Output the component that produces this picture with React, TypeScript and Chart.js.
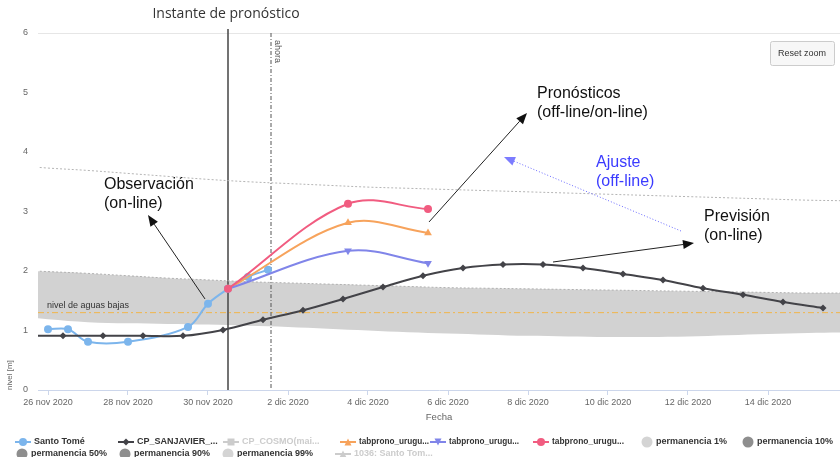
import React, { useEffect, useRef } from 'react';
import { Chart, registerables } from 'chart.js';

Chart.register(...registerables);

const FONT = '"Liberation Sans", Arial, Helvetica, sans-serif';

// x values are days since 26 nov 2020 00:00
const xTickDays = [0, 2, 4, 6, 8, 10, 12, 14, 16, 18];
const xTickLabels = ['26 nov 2020', '28 nov 2020', '30 nov 2020', '2 dic 2020', '4 dic 2020', '6 dic 2020', '8 dic 2020', '10 dic 2020', '12 dic 2020', '14 dic 2020'];
const yTickValues = [0, 1, 2, 3, 4, 5, 6];

const santoTomeDays = [0, 0.5, 1, 2, 3.5, 4, 4.5, 5, 5.5];
const santoTomeValues = [1.02, 1.02, 0.81, 0.81, 1.06, 1.45, 1.7, 1.9, 2.02];

const sanJavierDays = [-0.625, 0.375, 1.375, 2.375, 3.375, 4.375, 5.375, 6.375, 7.375, 8.375, 9.375, 10.375, 11.375, 12.375, 13.375, 14.375, 15.375, 16.375, 17.375, 18.375, 19.375];
const sanJavierValues = [0.91, 0.91, 0.91, 0.91, 0.91, 1.01, 1.18, 1.34, 1.53, 1.73, 1.92, 2.05, 2.11, 2.11, 2.05, 1.95, 1.85, 1.71, 1.6, 1.48, 1.38];

const pronoDays = [4.5, 7.5, 9.5];
const prono1Values = [1.7, 2.81, 2.64];
const prono2Values = [1.7, 2.34, 2.13];
const prono3Values = [1.7, 3.13, 3.04];

const permDays = [-1, 0, 1, 2, 3, 4, 5, 6, 7, 8, 9, 10, 11, 12, 13, 14, 15, 16, 17, 18, 19, 20];
const perm1Values = [3.78, 3.73, 3.69, 3.64, 3.59, 3.54, 3.5, 3.47, 3.44, 3.41, 3.39, 3.37, 3.35, 3.33, 3.31, 3.29, 3.27, 3.25, 3.23, 3.21, 3.19, 3.18];
const perm10Values = [2.02, 1.99, 1.96, 1.92, 1.88, 1.85, 1.82, 1.8, 1.78, 1.76, 1.74, 1.72, 1.71, 1.7, 1.69, 1.68, 1.67, 1.66, 1.65, 1.64, 1.63, 1.63];
const perm90Values = [1.25, 1.19, 1.14, 1.12, 1.11, 1.1, 1.08, 1.06, 1.03, 1.0, 0.97, 0.95, 0.93, 0.91, 0.9, 0.89, 0.89, 0.9, 0.92, 0.94, 0.96, 0.97];

const aguasBajasLevel = 1.3;
const instanteDay = 4.5;
const ahoraDay = 5.575;

// annotation texts (anchor in data units: day, level)
const noteTexts = [
  { lines: ['Instante de pronóstico'], day: 4.45, level: 6.32, color: '#333333', font: '14px "Open Sans", "Noto Sans", sans-serif', align: 'center' },
  { lines: ['Observación', '(on-line)'], day: 1.4, level: 3.445, color: '#111111', font: '16px ' + FONT, align: 'left' },
  { lines: ['Pronósticos', '(off-line/on-line)'], day: 12.225, level: 4.975, color: '#111111', font: '16px ' + FONT, align: 'left' },
  { lines: ['Ajuste', '(off-line)'], day: 13.7, level: 3.815, color: '#3b3bff', font: '16px ' + FONT, align: 'left' },
  { lines: ['Previsión', '(on-line)'], day: 16.4, level: 2.908, color: '#111111', font: '16px ' + FONT, align: 'left' },
];
const noteArrows = [
  { from: [3.925, 1.53], to: [2.5, 2.94], color: '#222222', head: '#111111', dash: [] as number[] },
  { from: [9.525, 2.824], to: [11.975, 4.655], color: '#222222', head: '#111111', dash: [] as number[] },
  { from: [15.825, 2.672], to: [11.4, 3.916], color: '#6a6aff', head: '#7c7cff', dash: [1, 2] },
  { from: [12.625, 2.151], to: [16.15, 2.47], color: '#222222', head: '#111111', dash: [] as number[] },
];

// legend
const legendItems = [
  { label: 'Santo Tomé', color: '#7cb5ec', kind: 'line', marker: 'circle', hidden: false, row: 0, left: 15, maxW: 0 },
  { label: 'CP_SANJAVIER_...', color: '#434348', kind: 'line', marker: 'diamond', hidden: false, row: 0, left: 118, maxW: 0 },
  { label: 'CP_COSMO(mai...', color: '#cccccc', kind: 'line', marker: 'square', hidden: true, row: 0, left: 223, maxW: 0 },
  { label: 'tabprono_urugu...', color: '#f7a35c', kind: 'line', marker: 'triangle', hidden: false, row: 0, left: 340, maxW: 70 },
  { label: 'tabprono_urugu...', color: '#8085e9', kind: 'line', marker: 'triangle-down', hidden: false, row: 0, left: 430, maxW: 70 },
  { label: 'tabprono_urugu...', color: '#f15c80', kind: 'line', marker: 'circle', hidden: false, row: 0, left: 533, maxW: 72 },
  { label: 'permanencia 1%', color: '#d4d4d4', kind: 'dot', marker: 'circle', hidden: false, row: 0, left: 641, maxW: 0 },
  { label: 'permanencia 10%', color: '#8e8e8e', kind: 'dot', marker: 'circle', hidden: false, row: 0, left: 742, maxW: 0 },
  { label: 'permanencia 50%', color: '#8e8e8e', kind: 'dot', marker: 'circle', hidden: false, row: 1, left: 16, maxW: 0 },
  { label: 'permanencia 90%', color: '#8e8e8e', kind: 'dot', marker: 'circle', hidden: false, row: 1, left: 119, maxW: 0 },
  { label: 'permanencia 99%', color: '#d4d4d4', kind: 'dot', marker: 'circle', hidden: false, row: 1, left: 222, maxW: 0 },
  { label: '1036: Santo Tom...', color: '#cccccc', kind: 'line', marker: 'triangle', hidden: true, row: 1, left: 335, maxW: 0 },
];

const pts = (days: number[], vals: number[]) => days.map((d, i) => ({ x: d, y: vals[i] }));

function drawMarker(ctx: CanvasRenderingContext2D, kind: string, x: number, y: number, r: number, color: string) {
  ctx.fillStyle = color;
  ctx.beginPath();
  if (kind === 'circle') {
    ctx.arc(x, y, r, 0, Math.PI * 2);
  } else if (kind === 'diamond') {
    ctx.moveTo(x, y - r); ctx.lineTo(x + r, y); ctx.lineTo(x, y + r); ctx.lineTo(x - r, y);
  } else if (kind === 'square') {
    ctx.rect(x - r, y - r, 2 * r, 2 * r);
  } else if (kind === 'triangle') {
    ctx.moveTo(x, y - r); ctx.lineTo(x + r, y + r); ctx.lineTo(x - r, y + r);
  } else if (kind === 'triangle-down') {
    ctx.moveTo(x - r, y - r); ctx.lineTo(x + r, y - r); ctx.lineTo(x, y + r);
  }
  ctx.closePath();
  ctx.fill();
}

function drawArrow(ctx: CanvasRenderingContext2D, x1: number, y1: number, x2: number, y2: number, color: string, head: string, dash: number[]) {
  const ang = Math.atan2(y2 - y1, x2 - x1);
  const hl = 11, hw = 4.5;
  const bx = x2 - hl * Math.cos(ang), by = y2 - hl * Math.sin(ang);
  ctx.strokeStyle = color;
  ctx.lineWidth = 1;
  ctx.setLineDash(dash);
  ctx.beginPath(); ctx.moveTo(x1, y1); ctx.lineTo(bx, by); ctx.stroke();
  ctx.setLineDash([]);
  ctx.fillStyle = head;
  ctx.beginPath();
  ctx.moveTo(x2, y2);
  ctx.lineTo(bx + hw * Math.sin(ang), by - hw * Math.cos(ang));
  ctx.lineTo(bx - hw * Math.sin(ang), by + hw * Math.cos(ang));
  ctx.closePath();
  ctx.fill();
}

const overlayPlugin = {
  id: 'overlay',
  beforeDatasetsDraw(chart: any) {
    const { ctx, chartArea: ca, scales } = chart;
    const x = scales.x, y = scales.y;
    ctx.save();
    // nivel de aguas bajas
    const yb = y.getPixelForValue(aguasBajasLevel);
    ctx.strokeStyle = '#f2b54a';
    ctx.lineWidth = 1;
    ctx.setLineDash([6, 3, 2, 3]);
    ctx.beginPath(); ctx.moveTo(ca.left, yb); ctx.lineTo(ca.right, yb); ctx.stroke();
    ctx.setLineDash([]);
    ctx.fillStyle = '#333333';
    ctx.font = '9px ' + FONT;
    ctx.textAlign = 'left';
    ctx.textBaseline = 'middle';
    ctx.fillText('nivel de aguas bajas', ca.left + 9, yb - 7);
    // ahora line
    const xa = x.getPixelForValue(ahoraDay);
    ctx.strokeStyle = '#555555';
    ctx.setLineDash([4, 2, 1, 2]);
    ctx.beginPath(); ctx.moveTo(xa, ca.top); ctx.lineTo(xa, ca.bottom); ctx.stroke();
    ctx.setLineDash([]);
    ctx.save();
    ctx.translate(xa + 2, ca.top + 7);
    ctx.rotate(Math.PI / 2);
    ctx.fillStyle = '#555555';
    ctx.font = '9px ' + FONT;
    ctx.textAlign = 'left';
    ctx.textBaseline = 'bottom';
    ctx.fillText('ahora', 0, 0);
    ctx.restore();
    // instante de pronostico line
    const xi = x.getPixelForValue(instanteDay);
    ctx.strokeStyle = '#444444';
    ctx.lineWidth = 1.5;
    ctx.beginPath(); ctx.moveTo(xi, ca.top - 4); ctx.lineTo(xi, ca.bottom); ctx.stroke();
    ctx.restore();
  },
  afterDraw(chart: any) {
    const { ctx, chartArea: ca, scales } = chart;
    const x = scales.x, y = scales.y;
    ctx.save();
    // reset zoom button
    const bw = 64, bh = 24;
    const bx = ca.right - bw - 6, by = ca.top + 8;
    ctx.fillStyle = '#f7f7f7';
    ctx.strokeStyle = '#cccccc';
    ctx.lineWidth = 1;
    ctx.beginPath();
    (ctx as any).roundRect(bx + 0.5, by + 0.5, bw, bh, 2);
    ctx.fill(); ctx.stroke();
    ctx.fillStyle = '#333333';
    ctx.font = '9px ' + FONT;
    ctx.textAlign = 'center';
    ctx.textBaseline = 'middle';
    ctx.fillText('Reset zoom', bx + bw / 2, by + bh / 2 + 1);

    // annotation arrows
    noteArrows.forEach((a) => {
      drawArrow(ctx, x.getPixelForValue(a.from[0]), y.getPixelForValue(a.from[1]), x.getPixelForValue(a.to[0]), y.getPixelForValue(a.to[1]), a.color, a.head, a.dash);
    });
    // annotation texts
    noteTexts.forEach((t) => {
      ctx.font = t.font;
      ctx.fillStyle = t.color;
      ctx.textAlign = t.align as CanvasTextAlign;
      ctx.textBaseline = 'middle';
      const px = x.getPixelForValue(t.day);
      const py = y.getPixelForValue(t.level);
      t.lines.forEach((line, i) => ctx.fillText(line, px, py + i * 19));
    });

    // legend
    const rowY = [442, 454];
    ctx.font = 'bold 9px ' + FONT;
    ctx.textAlign = 'left';
    ctx.textBaseline = 'middle';
    legendItems.forEach((it) => {
      const cy = rowY[it.row];
      let tx;
      if (it.kind === 'line') {
        ctx.strokeStyle = it.color;
        ctx.lineWidth = 2;
        ctx.beginPath(); ctx.moveTo(it.left, cy); ctx.lineTo(it.left + 16, cy); ctx.stroke();
        drawMarker(ctx, it.marker, it.left + 8, cy, it.marker === 'circle' ? 4 : 3.5, it.color);
        tx = it.left + 19;
      } else {
        drawMarker(ctx, 'circle', it.left + 6, cy, 5.5, it.color);
        tx = it.left + 15;
      }
      ctx.fillStyle = it.hidden ? '#cccccc' : '#333333';
      if (it.maxW > 0) ctx.fillText(it.label, tx, cy, it.maxW);
      else ctx.fillText(it.label, tx, cy);
    });
    ctx.restore();
  },
};

export default function App() {
  const ref = useRef<HTMLCanvasElement>(null);
  useEffect(() => {
    Chart.defaults.font.family = FONT;
    const lineBase = { borderWidth: 2, tension: 0.35, pointBorderWidth: 0, fill: false };
    const chart = new Chart(ref.current as HTMLCanvasElement, {
      type: 'line',
      data: {
        datasets: [
          { ...lineBase, label: 'tabprono_urugu... 3', data: pts(pronoDays, prono3Values), borderColor: '#f15c80', backgroundColor: '#f15c80', pointStyle: 'circle', pointRadius: 4, order: 1 },
          { ...lineBase, label: 'tabprono_urugu... 2', data: pts(pronoDays, prono2Values), borderColor: '#8085e9', backgroundColor: '#8085e9', pointStyle: 'triangle', pointRotation: 180, pointRadius: 4.5, order: 2 },
          { ...lineBase, label: 'tabprono_urugu... 1', data: pts(pronoDays, prono1Values), borderColor: '#f7a35c', backgroundColor: '#f7a35c', pointStyle: 'triangle', pointRadius: 4.5, order: 3 },
          { ...lineBase, label: 'CP_SANJAVIER', data: pts(sanJavierDays, sanJavierValues), borderColor: '#434348', backgroundColor: '#434348', pointStyle: 'rectRot', pointRadius: 3.5, order: 4 },
          { ...lineBase, label: 'Santo Tomé', data: pts(santoTomeDays, santoTomeValues), borderColor: '#7cb5ec', backgroundColor: '#7cb5ec', pointStyle: 'circle', pointRadius: 4, order: 5 },
          { label: 'permanencia 1%', data: pts(permDays, perm1Values), borderColor: '#b4b4b4', borderWidth: 1, borderDash: [2, 2], pointRadius: 0, tension: 0.35, fill: false, order: 10 },
          { label: 'permanencia 10%', data: pts(permDays, perm10Values), borderColor: '#b0b0b0', borderWidth: 1, borderDash: [2, 2], pointRadius: 0, tension: 0.35, fill: '+1', backgroundColor: '#d2d2d2', order: 11 },
          { label: 'permanencia 90%', data: pts(permDays, perm90Values), borderColor: 'rgba(0,0,0,0)', borderWidth: 0, pointRadius: 0, tension: 0.35, fill: false, order: 12 },
        ],
      },
      options: {
        animation: false,
        responsive: false,
        maintainAspectRatio: false,
        layout: { autoPadding: false, padding: { top: 33, left: 0, right: 0, bottom: 0 } },
        plugins: {
          legend: { display: false },
          tooltip: { enabled: false },
          filler: { drawTime: 'beforeDatasetsDraw' },
        },
        scales: {
          x: {
            type: 'linear',
            min: -0.25,
            max: 19.8,
            afterFit: (s: any) => { s.height = 67; s.paddingLeft = 0; s.paddingRight = 0; },
            afterBuildTicks: (s: any) => { s.ticks = xTickDays.map((v) => ({ value: v })); },
            ticks: {
              autoSkip: false,
              maxRotation: 0,
              padding: 2,
              color: '#666666',
              font: { size: 9 },
              callback: (v: any) => { const i = xTickDays.indexOf(Number(v)); return i >= 0 ? xTickLabels[i] : ''; },
            },
            grid: { drawOnChartArea: false, drawTicks: true, tickLength: 5, tickColor: '#ccd6eb', color: '#ccd6eb' },
            border: { display: true, color: '#ccd6eb' },
            title: { display: true, text: 'Fecha', color: '#666666', font: { size: 9.5 }, padding: { top: 0, bottom: 34 } },
          },
          y: {
            min: 0,
            max: 6,
            afterFit: (s: any) => { s.width = 38; },
            afterBuildTicks: (s: any) => { s.ticks = yTickValues.map((v) => ({ value: v })); },
            ticks: { padding: 10, color: '#666666', font: { size: 9 } },
            grid: { drawTicks: false, color: (c: any) => (c.tick && c.tick.value === 6 ? '#e6e6e6' : 'rgba(0,0,0,0)') },
            border: { display: false },
            title: { display: true, text: 'nivel [m]', align: 'start', color: '#666666', font: { size: 8 }, padding: { top: 5, bottom: 0 } },
          },
        },
      },
      plugins: [overlayPlugin],
    } as any);
    return () => chart.destroy();
  }, []);
  return (
    <div style={{ position: 'fixed', left: 0, top: 0, width: 840, height: 457, background: '#ffffff' }}>
      <canvas ref={ref} width={840} height={457} style={{ display: 'block' }} />
    </div>
  );
}
